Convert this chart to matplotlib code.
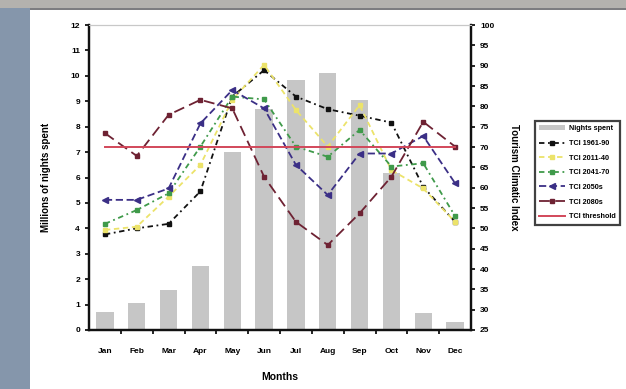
import matplotlib

matplotlib.use("Agg")
import matplotlib.pyplot as plt  # noqa: E402
import numpy as np  # noqa: E402
from matplotlib.patches import Rectangle  # noqa: E402

plt.rcParams["font.family"] = ["Liberation Sans", "DejaVu Sans"]

# data
months = ["Jan", "Feb", "Mar", "Apr", "May", "Jun",
          "Jul", "Aug", "Sep", "Oct", "Nov", "Dec"]
nights = [0.72, 1.05, 1.57, 2.52, 7.02, 8.7, 9.84, 10.1, 9.05, 6.18, 0.67, 0.33]
tci_base = [48.5, 50.0, 51.1, 59.1, 82.4, 88.9, 82.4, 79.3, 77.7, 76.0, 60.2, 51.6]
tci_yel = [49.6, 50.4, 57.8, 65.6, 81.6, 90.2, 79.1, 70.1, 80.3, 64.3, 59.8, 51.6]
tci_grn = [51.1, 54.5, 58.6, 70.1, 82.4, 81.7, 70.1, 67.6, 74.2, 65.2, 66.0, 53.0]
tci_blu = [57.0, 57.0, 59.8, 75.8, 84.0, 79.5, 65.6, 58.2, 68.4, 68.4, 72.7, 61.1]
tci_red = [73.4, 67.8, 77.9, 81.6, 79.5, 62.7, 51.6, 45.9, 53.7, 62.7, 76.2, 70.1]
tci_ideal = [70] * 12

labels = ["Nights spent", "TCI 1961-90", "TCI 2011-40", "TCI 2041-70",
          "TCI 2050s", "TCI 2080s", "TCI threshold"]

W, H = 626, 389
fig = plt.figure(figsize=(W / 100, H / 100), dpi=100)
fig.patch.set_facecolor("white")

# photo background: bluish strip on the left, grey strip on top
fig.patches.append(Rectangle((0, 0), 30 / W, 1, transform=fig.transFigure,
                             facecolor="#8596ab", edgecolor="none", zorder=0))
fig.patches.append(Rectangle((0, 1 - 8 / H), 1, 8 / H, transform=fig.transFigure,
                             facecolor="#b4b2ae", edgecolor="none", zorder=0))
fig.patches.append(Rectangle((30 / W, 1 - 10 / H), 1, 2 / H,
                             transform=fig.transFigure, facecolor="#7d7d80",
                             edgecolor="none", zorder=0))

ax = fig.add_axes([89 / W, 59 / H, 382 / W, 305 / H])
ax2 = ax.twinx()
ax.set_zorder(0)
ax2.set_zorder(1)
ax2.patch.set_visible(False)

x = np.arange(len(months))
bars = ax.bar(x, nights, 0.54, color="#c6c6c6", zorder=2)
ax.set_xlim(-0.5, 11.5)
ax.set_ylim(0, 12)
ax.set_yticks(range(0, 13))

styles = [
    (tci_base, "#111111", (0, (3, 2, 1, 2)), "s", 2.6),
    (tci_yel, "#ece36a", (0, (3, 2)), "s", 3.5),
    (tci_grn, "#3f9a4a", (0, (3, 2, 1, 2)), "s", 3.5),
    (tci_blu, "#3b2f86", (0, (4, 2)), "<", 4),
    (tci_red, "#6e2233", (0, (6, 3)), "s", 3.5),
]
handles = [bars]
for vals, col, ls, mk, ms in styles:
    (ln,) = ax2.plot(x, vals, color=col, linestyle=ls, linewidth=1.3,
                     marker=mk, markersize=ms, zorder=3)
    handles.append(ln)
(ln,) = ax2.plot(x, tci_ideal, color="#d2475a", linewidth=1.4, zorder=4)
handles.append(ln)
ax2.set_ylim(25, 100)
ax2.set_yticks(range(25, 101, 5))

tick_kw = dict(labelsize=6, width=1.2, length=3, direction="out")
ax.tick_params(axis="y", **tick_kw)
ax2.tick_params(axis="y", **tick_kw)
ax.set_xticks(x)
ax.set_xticklabels(months)
ax.tick_params(axis="x", which="major", length=0, labelsize=6, pad=13)
ax.set_xticks(np.arange(0.5, 11.5, 1), minor=True)
ax.tick_params(axis="x", which="minor", length=3, width=1.2)
for t in ax.get_xticklabels() + ax.get_yticklabels() + ax2.get_yticklabels():
    t.set_fontweight("bold")

for a in (ax, ax2):
    for s in ("left", "right", "bottom"):
        a.spines[s].set_linewidth(1.6)
        a.spines[s].set_color("#111111")
    a.spines["top"].set_color("#c8c8c8")

ax.set_ylabel("Millions of nights spent", fontsize=7, fontweight="bold",
              labelpad=14)
ax2.set_ylabel("Tourism Climatic Index", fontsize=7, fontweight="bold",
               rotation=-90, labelpad=18)
ax.set_xlabel("Months", fontsize=7.5, fontweight="bold", labelpad=12)

leg = fig.legend(handles, labels, loc="upper left",
                 bbox_to_anchor=(535 / W, 1 - 121 / H),
                 fontsize=5.2, frameon=True, fancybox=False, handlelength=3.6,
                 borderpad=0.6, labelspacing=1.05, handletextpad=0.5,
                 borderaxespad=0)
leg.get_frame().set_edgecolor("#111111")
leg.get_frame().set_linewidth(1.6)
for t in leg.get_texts():
    t.set_fontweight("bold")

fig.savefig("out.png", dpi=100)
